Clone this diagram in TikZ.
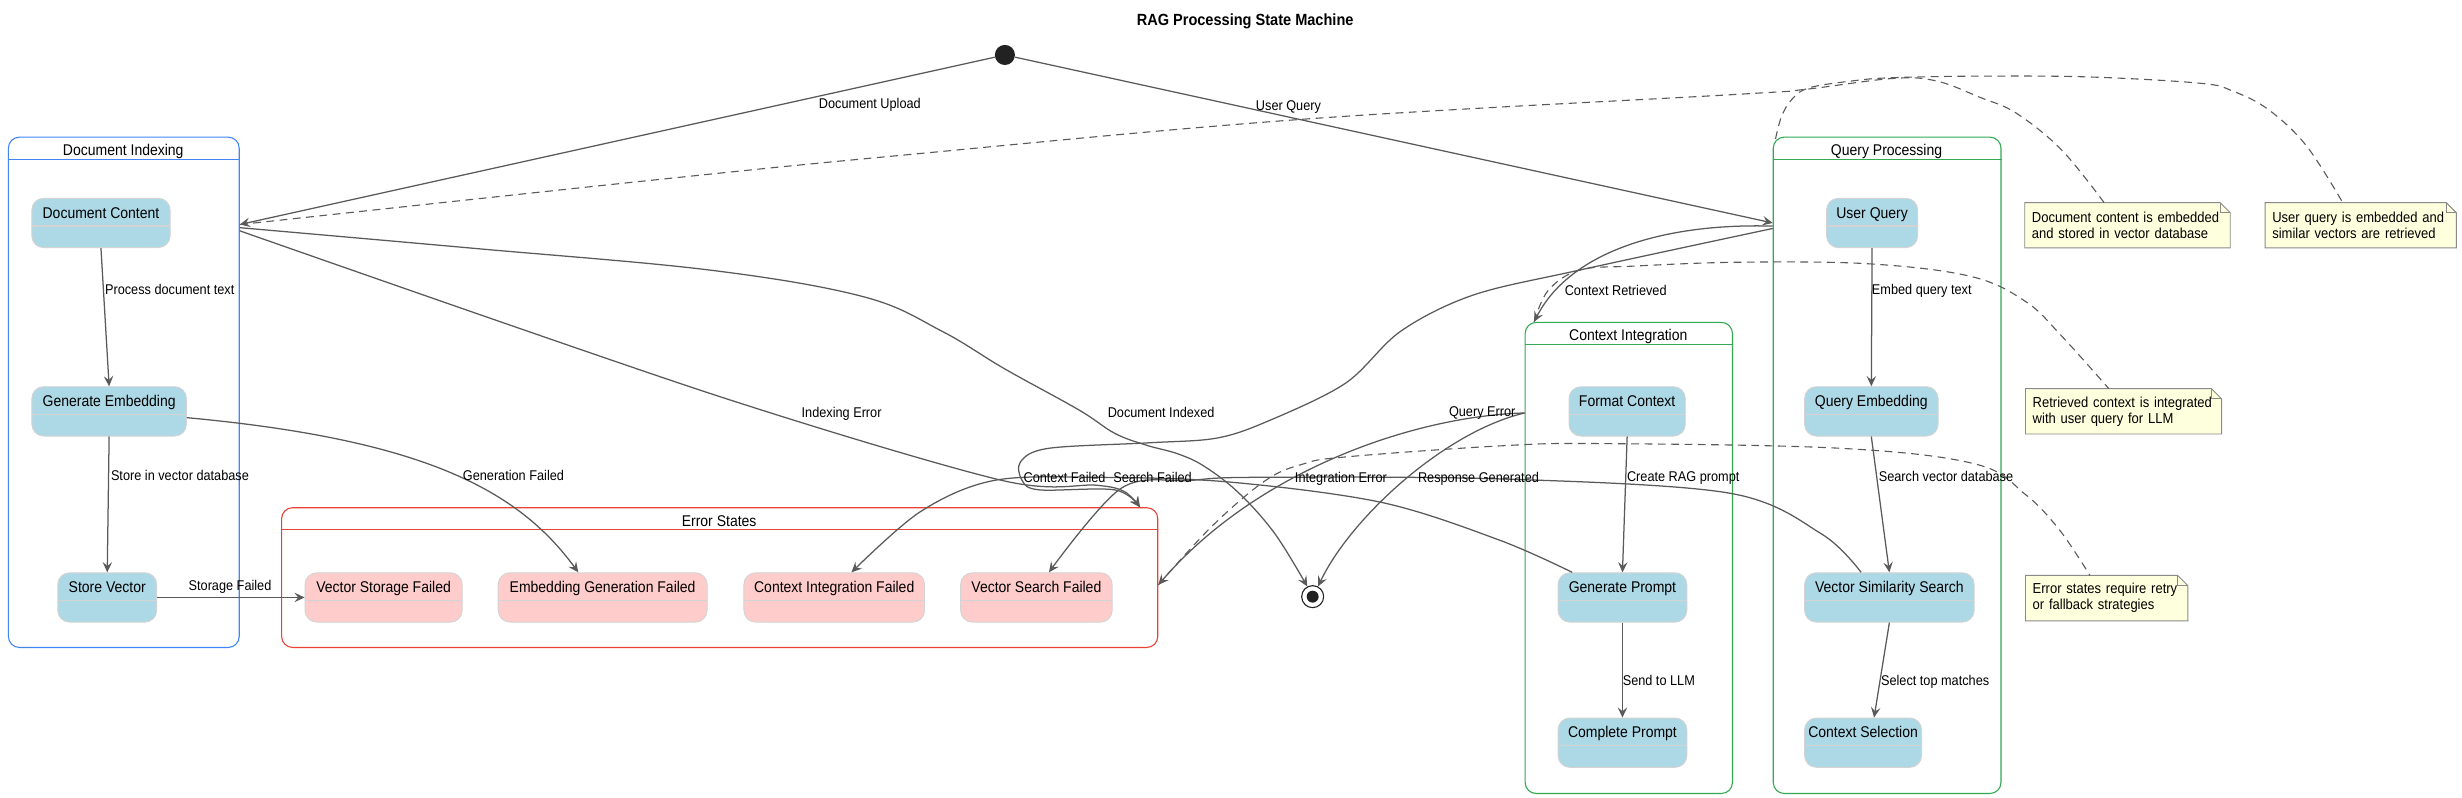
\documentclass[tikz,border=0pt]{standalone}
\usepackage{fontspec}
\setmainfont{Liberation Sans}[FakeStretch=0.9]
\usetikzlibrary{arrows.meta,backgrounds}
\definecolor{edgec}{HTML}{5A5A5A}
\definecolor{stfill}{HTML}{ADD8E6}
\definecolor{stline}{HTML}{D3D3D3}
\definecolor{erfill}{HTML}{FFCCCC}
\definecolor{diblue}{HTML}{4285F4}
\definecolor{esred}{HTML}{EA4335}
\definecolor{grn}{HTML}{34A853}
\definecolor{notefill}{HTML}{FEFFDD}
\definecolor{noteline}{HTML}{8A8A8A}
\definecolor{dotc}{HTML}{222222}
\newcommand\rsStFont{\fontsize{9.9pt}{11.9pt}\selectfont}
\newcommand\rsLbFont{\fontsize{9pt}{10.8pt}\selectfont}
\newcommand\rsNtFont{\fontsize{9.2pt}{10.2pt}\selectfont}
\newcommand\rsTtFont{\fontsize{10.3pt}{12pt}\selectfont\bfseries}
\begin{document}
\begin{tikzpicture}[x=1pt,y=-1pt,
  edge/.style={draw=edgec,line width=0.8pt},
  arr/.style={edge,-{Stealth[length=6.5pt,width=6pt,inset=2.5pt]}},
  notelink/.style={draw=edgec,line width=0.7pt,dash pattern=on 5pt off 3.5pt},
  stbase/.style={rectangle,rounded corners=7.5pt,anchor=north west,inner sep=0pt,
     minimum height=31.4pt,text height=12.65pt,text depth=18.75pt,font=\rsStFont,line width=0.6pt,
     path picture={\draw[stline,line width=0.8pt] ([yshift=-17.6pt]path picture bounding box.north west) -- ([yshift=-17.6pt]path picture bounding box.north east);}},
  okst/.style={stbase,fill=stfill,draw=stline},
  errst/.style={stbase,fill=erfill,draw=stline},
  cont/.style={rectangle,rounded corners=7pt,anchor=north west,inner sep=0pt,line width=0.7pt},
  ctitle/.style={anchor=base,font=\rsStFont,inner sep=0pt},
  lbl/.style={anchor=base,font=\rsLbFont,inner sep=0pt},
  lblw/.style={anchor=base west,font=\rsLbFont,inner sep=0pt},
  notebox/.style={anchor=north west,inner xsep=4.4pt,inner ysep=0pt,align=left,font=\rsNtFont,minimum height=28.5pt},
  notedraw/.style={fill=notefill,draw=noteline,line width=0.6pt},
]
\useasboundingbox (0,0) rectangle (1568,508);

% title
\node[font=\rsTtFont,anchor=base,inner sep=0pt] (title) at (793,16.4) {RAG Processing State Machine};

% pseudo states
\node[circle,fill=dotc,minimum size=12.8pt,inner sep=0pt] (init) at (640,35) {};
\node[circle,draw=dotc,fill=white,line width=0.7pt,minimum size=14pt,inner sep=0pt] (fin) at (836,380) {};
\fill[dotc] (fin.center) circle (3.8pt);

% containers
\node[cont,draw=diblue,minimum width=147pt,minimum height=325pt] (di) at (5,87) {};
\draw[diblue,line width=0.7pt] ([yshift=-14.5pt]di.north west) -- ([yshift=-14.5pt]di.north east);
\node[ctitle] (dit) at (78.5,99) {Document Indexing};

\node[cont,draw=esred,minimum width=558pt,minimum height=89pt] (es) at (179,323) {};
\draw[esred,line width=0.7pt] ([yshift=-14.5pt]es.north west) -- ([yshift=-14.5pt]es.north east);
\node[ctitle] (est) at (458,335) {Error States};

\node[cont,draw=grn,minimum width=132pt,minimum height=300pt] (ci) at (971,205) {};
\draw[grn,line width=0.7pt] ([yshift=-14.5pt]ci.north west) -- ([yshift=-14.5pt]ci.north east);
\node[ctitle] (cit) at (1037,217) {Context Integration};

\node[cont,draw=grn,minimum width=145pt,minimum height=418pt] (qp) at (1129,87) {};
\draw[grn,line width=0.7pt] ([yshift=-14.5pt]qp.north west) -- ([yshift=-14.5pt]qp.north east);
\node[ctitle] (qpt) at (1201.5,99) {Query Processing};

% states
\node[okst,minimum width=88pt] (dc) at (20,126) {Document Content};
\node[okst,minimum width=98.4pt] (ge) at (20,246) {Generate Embedding};
\node[okst,minimum width=63pt] (sv) at (36.5,364.5) {Store Vector};

\node[errst,minimum width=100pt] (vsf) at (194,364.5) {Vector Storage Failed};
\node[errst,minimum width=133pt] (egf) at (317,364.5) {Embedding Generation Failed};
\node[errst,minimum width=115pt] (cif) at (473.5,364.5) {Context Integration Failed};
\node[errst,minimum width=96.5pt] (vsef) at (611.5,364.5) {Vector Search Failed};

\node[okst,minimum width=74pt] (fc) at (999,246) {Format Context};
\node[okst,minimum width=82pt] (gp) at (992,364.5) {Generate Prompt};
\node[okst,minimum width=82pt] (cp) at (992,457) {Complete Prompt};

\node[okst,minimum width=58pt] (uq) at (1163,126) {User Query};
\node[okst,minimum width=85pt] (qe) at (1149,246) {Query Embedding};
\node[okst,minimum width=108pt] (vss) at (1149,364.5) {Vector Similarity Search};
\node[okst,minimum width=74.5pt] (cs) at (1149,457) {Context Selection};

% notes
\node[notebox,text width=121.7pt] (n1) at (1289.5,129) {Document content is embedded\\and stored in vector database};
\node[notebox,text width=112.6pt] (n2) at (1442.6,129) {User query is embedded and\\similar vectors are retrieved};
\node[notebox,text width=115.7pt] (n3) at (1290,247.5) {Retrieved context is integrated\\with user query for LLM};
\node[notebox,text width=94.2pt] (n4) at (1290,366.5) {Error states require retry\\or fallback strategies};

\begin{scope}[on background layer]
  \fill[white] (0,0) rectangle (1568,508);
  \foreach \n in {n1,n2,n3,n4} {
    \draw[notedraw] (\n.north west) -- ([xshift=-6.5pt]\n.north east) -- ([yshift=-6.5pt]\n.north east) -- (\n.south east) -- (\n.south west) -- cycle;
    \draw[noteline,line width=0.6pt] ([xshift=-6.5pt]\n.north east) |- ([yshift=-6.5pt]\n.north east);
  }
\end{scope}

% ports
\coordinate (diUp) at (di.east |- 0,143);
\coordinate (diIdx) at (di.east |- 0,145);
\coordinate (diErr) at (di.east |- 0,147);
\coordinate (qpUq) at (qp.west |- 0,142);
\coordinate (qpCr) at (qp.west |- 0,144);
\coordinate (qpQe) at (qp.west |- 0,145.5);
\coordinate (qpN) at (1130.8,88.5);
\coordinate (ciTL) at (977,205);
\coordinate (ciW) at (ci.west |- 0,263);
\coordinate (esT) at (726,323);
\coordinate (esR) at (es.east |- 0,372.5);
\coordinate (geE) at (ge.east |- 0,266);
\coordinate (egfT) at ([xshift=-15.5pt]egf.north);
\coordinate (cifT) at ([xshift=11pt]cif.north);
\coordinate (vsefT) at ([xshift=8pt]vsef.north);
\coordinate (gpS) at ([xshift=-32pt]gp.north);
\coordinate (vssS) at ([xshift=-18pt]vss.north);
\coordinate (csT) at ([xshift=7pt]cs.north);
\coordinate (n1T) at (1340,129);
\coordinate (n2T) at (1492,129);
\coordinate (n3T) at (1343,247.5);
\coordinate (n4T) at (1331,366.5);

% note links
\draw[notelink] plot[smooth,tension=0.6] coordinates {(diUp) (413,115) (573,99) (829,76) (1108,60) (1149,57) (1205,50) (1233,51.5) (1261,62) (1284,72) (1313,95.5) (n1T)};
\draw[notelink] plot[smooth,tension=0.6] coordinates {(qpN) (1134.5,74.5) (1141,63.5) (1152,56) (1180,51.5) (1205,49.5) (1260,48.5) (1330,49) (1401,53) (1422,58) (1445,70) (1469,93) (n2T)};
\draw[notelink] plot[smooth,tension=0.6] coordinates {(ciTL) (986,185) (1006,172) (1040,169.5) (1108,167) (1190,168) (1255,176) (1290,192) (1313,214) (n3T)};
\draw[notelink] plot[smooth,tension=0.6] coordinates {(esR) (772,335) (806,306) (830,295.5) (857,291) (955,284) (1019,282.5) (1172,285.5) (1258,295.5) (1290,315) (1312,338) (n4T)};

% transitions
\draw[arr] (init) -- (diUp);
\draw[arr] (init) -- (qpUq);
\draw[arr] plot[smooth,tension=0.6] coordinates {(diIdx) (300,158) (452,172) (550,189) (600,211) (640,235) (687,261) (710,276) (730,283.5) (750,289) (767,297) (789,314) (812,340) (fin.118)};
\draw[arr] plot[smooth,tension=0.5] coordinates {(diErr) (452,250.5) (637,305.7) (698,309) (716,313) (esT)};
\draw[arr] plot[smooth,tension=0.55] coordinates {(qpQe) (1006,172) (938,188) (892,211) (857,244) (808,268) (775,279) (732,282) (668,285.5) (650,294) (651,306) (662,312) (710,312) (esT)};
\draw[arr] (qpCr) .. controls (1060,142) and (1000,160) .. (ciTL);
\draw[arr] (ciW) .. controls (900,265) and (800,300) .. (esR);
\draw[arr] (ciW) .. controls (920,275) and (860,330) .. (fin.62);
\draw[arr] plot[smooth,tension=0.55] coordinates {(gpS) (955,344) (880,320) (783,307) (700,304) (633,306) (586,326) (cifT)};
\draw[arr] plot[smooth,tension=0.55] coordinates {(vssS) (1160,340) (1101,314) (955,305) (800,304) (758,306) (714,311) (vsefT)};
\draw[arr] (geE) .. controls (270,280) and (330,312) .. (egfT);
\draw[arr] (sv.east) -- (vsf.west);
\draw[arr] (dc.south) -- (ge.north);
\draw[arr] (ge.south) -- (sv.north);
\draw[arr] (uq.south) -- (qe.north);
\draw[arr] (qe.south) -- (vss.north);
\draw[arr] (vss.south) -- (csT);
\draw[arr] (fc.south) -- (gp.north);
\draw[arr] (gp.south) -- (cp.north);

% transition labels
\node[lbl] (l1) at (554,69.3) {Document Upload};
\node[lbl] (l2) at (820.6,70.2) {User Query};
\node[lblw] (l3) at (66.7,187.3) {Process document text};
\node[lblw] (l4) at (70.5,306.3) {Store in vector database};
\node[lbl] (l5) at (146.5,376.3) {Storage Failed};
\node[lbl] (l6) at (327,306.3) {Generation Failed};
\node[lbl] (l7) at (536,266) {Indexing Error};
\node[lbl] (l8) at (739.5,265.7) {Document Indexed};
\node[lbl] (l9) at (944,265.5) {Query Error};
\node[lbl] (l10) at (678,307) {Context Failed};
\node[lbl] (l11) at (734,307) {Search Failed};
\node[lbl] (l12) at (854,307) {Integration Error};
\node[lbl] (l13) at (941.6,307) {Response Generated};
\node[lbl] (l14) at (1029,188) {Context Retrieved};
\node[lblw] (l15) at (1036,306.7) {Create RAG prompt};
\node[lblw] (l16) at (1033.3,436.3) {Send to LLM};
\node[lblw] (l17) at (1192,187.3) {Embed query text};
\node[lblw] (l18) at (1196.4,306.7) {Search vector database};
\node[lblw] (l19) at (1197.8,436.3) {Select top matches};
\end{tikzpicture}
\end{document}
